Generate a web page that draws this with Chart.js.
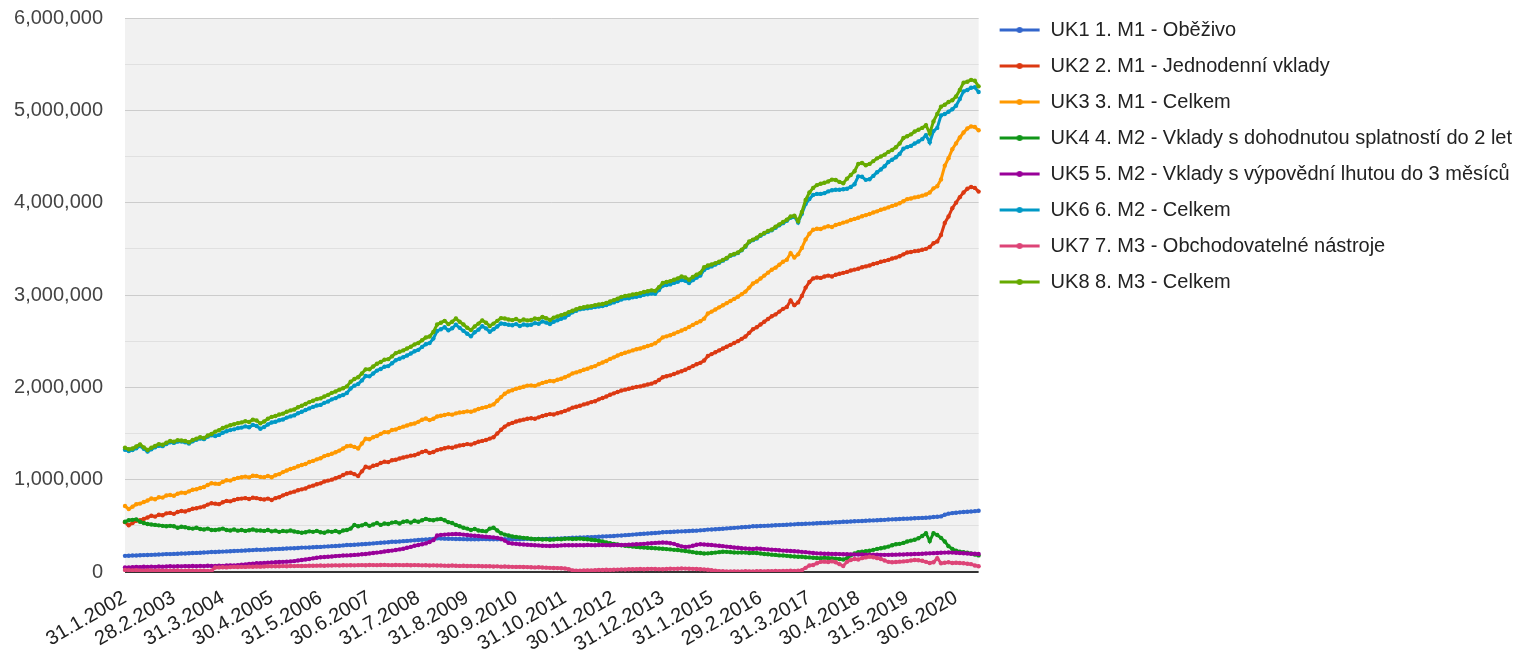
<!DOCTYPE html>
<html>
<head>
<meta charset="utf-8">
<title>Peněžní agregáty</title>
<script src="https://cdn.jsdelivr.net/npm/chart.js@4.4.1/dist/chart.umd.min.js"></script>
<style>
  html, body { margin: 0; padding: 0; background: #fff; }
  #wrap { position: relative; width: 1522px; height: 655px; }
</style>
</head>
<body>
<div id="wrap"><canvas id="aggregates"></canvas></div>
<script>
// Month-end dates, Jan 2002 - Dec 2020
const categories = [
  '31.1.2002','28.2.2002','31.3.2002','30.4.2002','31.5.2002','30.6.2002','31.7.2002','31.8.2002','30.9.2002','31.10.2002','30.11.2002','31.12.2002',
  '31.1.2003','28.2.2003','31.3.2003','30.4.2003','31.5.2003','30.6.2003','31.7.2003','31.8.2003','30.9.2003','31.10.2003','30.11.2003','31.12.2003',
  '31.1.2004','29.2.2004','31.3.2004','30.4.2004','31.5.2004','30.6.2004','31.7.2004','31.8.2004','30.9.2004','31.10.2004','30.11.2004','31.12.2004',
  '31.1.2005','28.2.2005','31.3.2005','30.4.2005','31.5.2005','30.6.2005','31.7.2005','31.8.2005','30.9.2005','31.10.2005','30.11.2005','31.12.2005',
  '31.1.2006','28.2.2006','31.3.2006','30.4.2006','31.5.2006','30.6.2006','31.7.2006','31.8.2006','30.9.2006','31.10.2006','30.11.2006','31.12.2006',
  '31.1.2007','28.2.2007','31.3.2007','30.4.2007','31.5.2007','30.6.2007','31.7.2007','31.8.2007','30.9.2007','31.10.2007','30.11.2007','31.12.2007',
  '31.1.2008','29.2.2008','31.3.2008','30.4.2008','31.5.2008','30.6.2008','31.7.2008','31.8.2008','30.9.2008','31.10.2008','30.11.2008','31.12.2008',
  '31.1.2009','28.2.2009','31.3.2009','30.4.2009','31.5.2009','30.6.2009','31.7.2009','31.8.2009','30.9.2009','31.10.2009','30.11.2009','31.12.2009',
  '31.1.2010','28.2.2010','31.3.2010','30.4.2010','31.5.2010','30.6.2010','31.7.2010','31.8.2010','30.9.2010','31.10.2010','30.11.2010','31.12.2010',
  '31.1.2011','28.2.2011','31.3.2011','30.4.2011','31.5.2011','30.6.2011','31.7.2011','31.8.2011','30.9.2011','31.10.2011','30.11.2011','31.12.2011',
  '31.1.2012','29.2.2012','31.3.2012','30.4.2012','31.5.2012','30.6.2012','31.7.2012','31.8.2012','30.9.2012','31.10.2012','30.11.2012','31.12.2012',
  '31.1.2013','28.2.2013','31.3.2013','30.4.2013','31.5.2013','30.6.2013','31.7.2013','31.8.2013','30.9.2013','31.10.2013','30.11.2013','31.12.2013',
  '31.1.2014','28.2.2014','31.3.2014','30.4.2014','31.5.2014','30.6.2014','31.7.2014','31.8.2014','30.9.2014','31.10.2014','30.11.2014','31.12.2014',
  '31.1.2015','28.2.2015','31.3.2015','30.4.2015','31.5.2015','30.6.2015','31.7.2015','31.8.2015','30.9.2015','31.10.2015','30.11.2015','31.12.2015',
  '31.1.2016','29.2.2016','31.3.2016','30.4.2016','31.5.2016','30.6.2016','31.7.2016','31.8.2016','30.9.2016','31.10.2016','30.11.2016','31.12.2016',
  '31.1.2017','28.2.2017','31.3.2017','30.4.2017','31.5.2017','30.6.2017','31.7.2017','31.8.2017','30.9.2017','31.10.2017','30.11.2017','31.12.2017',
  '31.1.2018','28.2.2018','31.3.2018','30.4.2018','31.5.2018','30.6.2018','31.7.2018','31.8.2018','30.9.2018','31.10.2018','30.11.2018','31.12.2018',
  '31.1.2019','28.2.2019','31.3.2019','30.4.2019','31.5.2019','30.6.2019','31.7.2019','31.8.2019','30.9.2019','31.10.2019','30.11.2019','31.12.2019',
  '31.1.2020','29.2.2020','31.3.2020','30.4.2020','31.5.2020','30.6.2020','31.7.2020','31.8.2020','30.9.2020','31.10.2020','30.11.2020','31.12.2020'
];

// UK1 1. M1 - Oběživo
const uk1Obezivo = [
  175000,176000,178000,179000,181000,183000,184000,186000,188000,189000,191000,194000,
  194000,196000,198000,200000,201000,203000,205000,207000,209000,211000,213000,216000,
  217000,219000,221000,223000,225000,227000,229000,231000,233000,235000,237000,241000,
  240000,242000,244000,246000,248000,250000,252000,254000,256000,258000,260000,264000,
  264000,266000,268000,270000,272000,275000,277000,280000,282000,285000,288000,292000,
  292000,295000,298000,301000,304000,307000,310000,313000,316000,320000,323000,328000,
  328000,331000,334000,337000,340000,343000,346000,349000,352000,355000,359000,364000,
  362000,361000,360000,359000,358000,357000,356000,355000,355000,354000,355000,358000,
  356000,355000,355000,354000,354000,355000,355000,354000,355000,355000,356000,359000,
  356000,356000,357000,358000,359000,360000,361000,362000,363000,365000,367000,371000,
  372000,374000,375000,377000,378000,380000,382000,384000,386000,388000,390000,394000,
  396000,399000,402000,405000,408000,411000,414000,417000,420000,423000,426000,431000,
  432000,434000,436000,438000,440000,442000,444000,446000,448000,451000,454000,459000,
  460000,463000,466000,469000,472000,475000,478000,481000,484000,487000,490000,495000,
  496000,498000,500000,502000,504000,506000,508000,510000,512000,514000,516000,520000,
  520000,522000,524000,526000,528000,530000,532000,534000,536000,538000,540000,544000,
  545000,547000,549000,551000,553000,555000,557000,559000,561000,563000,565000,569000,
  570000,572000,574000,576000,578000,580000,582000,584000,586000,588000,590000,595000,
  598000,602000,620000,632000,638000,642000,646000,650000,653000,656000,659000,664000
];

// UK2 2. M1 - Jednodenní vklady
const uk2JednodenniVklady = [
  540000,505000,530000,555000,560000,575000,590000,610000,600000,620000,615000,635000,
  640000,630000,650000,660000,655000,670000,685000,690000,700000,710000,730000,745000,
  740000,735000,755000,770000,765000,780000,790000,795000,800000,790000,805000,800000,
  790000,785000,795000,780000,800000,810000,830000,845000,860000,870000,885000,895000,
  905000,925000,935000,950000,960000,980000,990000,1000000,1015000,1030000,1050000,1070000,
  1075000,1060000,1040000,1090000,1140000,1130000,1150000,1160000,1180000,1195000,1190000,1210000,
  1215000,1230000,1240000,1250000,1260000,1265000,1280000,1300000,1310000,1290000,1300000,1320000,
  1330000,1340000,1350000,1345000,1360000,1370000,1375000,1385000,1380000,1395000,1410000,1420000,
  1430000,1445000,1460000,1500000,1540000,1575000,1600000,1615000,1630000,1640000,1650000,1660000,
  1665000,1660000,1675000,1690000,1700000,1710000,1705000,1720000,1730000,1745000,1760000,1780000,
  1790000,1800000,1815000,1825000,1840000,1850000,1870000,1885000,1900000,1920000,1935000,1950000,
  1965000,1975000,1985000,1995000,2005000,2010000,2020000,2030000,2040000,2055000,2080000,2110000,
  2120000,2130000,2145000,2160000,2175000,2190000,2210000,2230000,2250000,2265000,2290000,2340000,
  2360000,2380000,2400000,2420000,2440000,2460000,2480000,2500000,2525000,2550000,2590000,2630000,
  2650000,2680000,2710000,2740000,2770000,2790000,2820000,2850000,2870000,2940000,2890000,2920000,
  2990000,3080000,3140000,3180000,3190000,3185000,3200000,3210000,3200000,3220000,3230000,3240000,
  3250000,3265000,3275000,3285000,3300000,3310000,3320000,3335000,3345000,3360000,3370000,3380000,
  3395000,3405000,3420000,3440000,3460000,3465000,3475000,3480000,3490000,3500000,3520000,3560000,
  3580000,3650000,3780000,3850000,3940000,4000000,4060000,4110000,4150000,4170000,4160000,4120000
];

// UK3 3. M1 - Celkem
const uk3M1Celkem = [
  715000,681000,708000,734000,741000,758000,774000,796000,788000,809000,806000,829000,
  834000,826000,848000,860000,856000,873000,890000,897000,909000,921000,943000,961000,
  957000,954000,976000,993000,990000,1007000,1019000,1026000,1033000,1025000,1042000,1041000,
  1030000,1027000,1039000,1026000,1048000,1060000,1082000,1099000,1116000,1128000,1145000,1159000,
  1169000,1191000,1203000,1220000,1232000,1255000,1267000,1280000,1297000,1315000,1338000,1362000,
  1367000,1355000,1338000,1391000,1444000,1437000,1460000,1473000,1496000,1515000,1513000,1538000,
  1543000,1561000,1574000,1587000,1600000,1608000,1626000,1649000,1662000,1645000,1659000,1684000,
  1692000,1701000,1710000,1704000,1718000,1727000,1731000,1740000,1735000,1749000,1765000,1778000,
  1786000,1800000,1815000,1854000,1894000,1930000,1955000,1969000,1985000,1995000,2006000,2019000,
  2021000,2016000,2032000,2048000,2059000,2070000,2066000,2082000,2093000,2110000,2127000,2151000,
  2162000,2174000,2190000,2202000,2218000,2230000,2252000,2269000,2286000,2308000,2325000,2344000,
  2361000,2374000,2387000,2400000,2413000,2421000,2434000,2447000,2460000,2478000,2506000,2541000,
  2552000,2564000,2581000,2598000,2615000,2632000,2654000,2676000,2698000,2716000,2744000,2799000,
  2820000,2843000,2866000,2889000,2912000,2935000,2958000,2981000,3009000,3037000,3080000,3125000,
  3146000,3178000,3210000,3242000,3274000,3296000,3328000,3360000,3382000,3454000,3406000,3440000,
  3510000,3602000,3664000,3706000,3718000,3715000,3732000,3744000,3736000,3758000,3770000,3784000,
  3795000,3812000,3824000,3836000,3853000,3865000,3877000,3894000,3906000,3923000,3935000,3949000,
  3965000,3977000,3994000,4016000,4038000,4045000,4057000,4064000,4076000,4088000,4110000,4155000,
  4178000,4252000,4400000,4482000,4578000,4642000,4706000,4760000,4803000,4826000,4819000,4784000
];

// UK4 4. M2 - Vklady s dohodnutou splatností do 2 let
const uk4VkladySplatnost = [
  545000,560000,565000,570000,545000,530000,520000,515000,510000,505000,500000,495000,
  500000,495000,480000,490000,485000,475000,470000,480000,465000,460000,470000,455000,
  455000,460000,470000,455000,450000,460000,448000,455000,445000,452000,460000,450000,
  450000,445000,455000,440000,448000,435000,445000,440000,450000,438000,432000,425000,
  430000,440000,435000,445000,430000,425000,440000,435000,445000,430000,450000,455000,
  470000,510000,495000,505000,520000,500000,515000,530000,510000,525000,520000,535000,
  540000,525000,545000,550000,535000,555000,545000,560000,575000,565000,560000,570000,
  575000,560000,540000,530000,510000,495000,480000,470000,455000,465000,450000,445000,
  440000,470000,480000,450000,420000,405000,395000,385000,380000,375000,370000,365000,
  360000,355000,358000,352000,355000,350000,352000,358000,355000,360000,362000,358000,
  360000,362000,358000,355000,350000,345000,338000,330000,320000,312000,305000,298000,
  290000,285000,280000,275000,272000,268000,265000,262000,260000,258000,255000,252000,
  248000,245000,240000,238000,232000,228000,222000,215000,208000,205000,200000,202000,
  205000,210000,215000,220000,218000,215000,212000,210000,212000,210000,205000,208000,
  205000,200000,195000,192000,188000,185000,180000,178000,175000,170000,168000,165000,
  165000,160000,158000,155000,152000,150000,155000,150000,148000,145000,140000,135000,
  150000,180000,200000,215000,220000,225000,230000,240000,250000,258000,265000,275000,
  290000,300000,305000,315000,330000,340000,350000,365000,390000,420000,335000,420000,
  400000,370000,330000,280000,250000,230000,220000,215000,210000,200000,190000,180000
];

// UK5 5. M2 - Vklady s výpovědní lhůtou do 3 měsíců
const uk5VkladyVypoved = [
  50000,48000,52000,55000,53000,57000,55000,58000,56000,60000,58000,60000,
  62000,60000,63000,61000,64000,62000,65000,63000,66000,64000,67000,66000,
  65000,68000,66000,70000,72000,70000,74000,78000,82000,86000,90000,94000,
  95000,98000,100000,103000,105000,108000,110000,112000,115000,118000,124000,130000,
  135000,140000,148000,155000,160000,162000,165000,168000,172000,175000,178000,180000,
  182000,185000,188000,192000,195000,200000,205000,210000,215000,222000,228000,232000,
  238000,245000,252000,262000,272000,285000,292000,300000,310000,325000,345000,395000,
  402000,405000,408000,410000,412000,410000,405000,400000,395000,392000,390000,385000,
  382000,378000,375000,370000,360000,340000,315000,308000,305000,300000,298000,295000,
  292000,290000,288000,285000,283000,282000,284000,285000,288000,290000,289000,290000,
  290000,291000,290000,292000,291000,290000,292000,293000,291000,290000,292000,293000,
  292000,294000,296000,298000,300000,302000,305000,308000,312000,315000,318000,320000,
  318000,312000,305000,290000,278000,272000,275000,285000,295000,300000,298000,295000,
  292000,288000,285000,280000,275000,270000,265000,262000,258000,255000,252000,250000,
  255000,252000,248000,245000,242000,240000,235000,232000,230000,228000,225000,222000,
  218000,215000,210000,205000,202000,200000,198000,197000,196000,195000,194000,193000,
  192000,191000,190000,190000,189000,188000,188000,187000,187000,186000,186000,186000,
  187000,188000,189000,190000,192000,193000,195000,196000,198000,200000,202000,204000,
  206000,208000,210000,211000,210000,208000,205000,203000,200000,198000,197000,195000
];

// UK6 6. M2 - Celkem
const uk6M2Celkem = [
  1323000,1310000,1320000,1340000,1365000,1335000,1304000,1329000,1351000,1368000,1363000,1387000,
  1405000,1398000,1412000,1413000,1404000,1392000,1415000,1433000,1446000,1439000,1466000,1481000,
  1472000,1485000,1508000,1525000,1537000,1545000,1558000,1564000,1577000,1567000,1593000,1581000,
  1552000,1570000,1598000,1619000,1627000,1643000,1651000,1672000,1685000,1696000,1719000,1735000,
  1754000,1772000,1788000,1803000,1810000,1832000,1847000,1870000,1883000,1904000,1917000,1938000,
  1987000,2018000,2036000,2075000,2122000,2119000,2150000,2181000,2199000,2223000,2230000,2261000,
  2294000,2310000,2326000,2344000,2367000,2390000,2406000,2438000,2467000,2479000,2528000,2610000,
  2629000,2651000,2617000,2640000,2678000,2644000,2612000,2580000,2554000,2596000,2625000,2662000,
  2638000,2602000,2630000,2659000,2692000,2686000,2678000,2672000,2685000,2664000,2681000,2672000,
  2678000,2695000,2689000,2714000,2701000,2685000,2711000,2726000,2742000,2757000,2785000,2812000,
  2830000,2846000,2852000,2857000,2863000,2870000,2876000,2881000,2891000,2907000,2920000,2934000,
  2952000,2963000,2965000,2976000,2981000,2988000,3002000,3007000,3016000,3013000,3054000,3100000,
  3107000,3115000,3131000,3144000,3162000,3153000,3130000,3161000,3188000,3210000,3272000,3295000,
  3310000,3330000,3350000,3372000,3394000,3425000,3438000,3454000,3485000,3522000,3573000,3594000,
  3612000,3641000,3665000,3685000,3701000,3729000,3755000,3778000,3804000,3837000,3848000,3786000,
  3880000,3985000,4040000,4084000,4095000,4095000,4103000,4122000,4135000,4140000,4140000,4145000,
  4150000,4170000,4200000,4285000,4280000,4247000,4254000,4290000,4330000,4360000,4395000,4440000,
  4465000,4492000,4528000,4585000,4602000,4615000,4640000,4662000,4688000,4730000,4653000,4775000,
  4810000,4945000,4960000,4985000,5012000,5050000,5123000,5205000,5220000,5245000,5250000,5198000
];

// UK7 7. M3 - Obchodovatelné nástroje
const uk7ObchodovatelneNastroje = [
  22000,20000,18000,20000,17000,15000,18000,16000,14000,17000,15000,13000,
  15000,14000,16000,12000,14000,13000,15000,12000,14000,13000,12000,14000,
  48000,50000,52000,50000,53000,55000,54000,56000,55000,58000,57000,59000,
  58000,60000,62000,61000,63000,62000,64000,63000,65000,64000,66000,65000,
  66000,68000,67000,69000,70000,68000,71000,70000,72000,71000,73000,72000,
  73000,72000,74000,75000,73000,76000,75000,74000,76000,77000,75000,74000,
  76000,75000,74000,76000,73000,75000,74000,72000,73000,71000,72000,70000,
  71000,69000,68000,70000,67000,66000,68000,65000,66000,64000,65000,63000,
  62000,63000,60000,61000,58000,59000,57000,56000,55000,56000,54000,53000,
  52000,50000,51000,48000,47000,45000,44000,42000,40000,38000,30000,18000,
  15000,14000,16000,18000,17000,20000,22000,21000,24000,23000,25000,26000,
  28000,27000,30000,29000,31000,32000,30000,33000,34000,32000,31000,30000,
  33000,35000,34000,36000,38000,37000,35000,34000,32000,30000,28000,25000,
  20000,15000,10000,8000,6000,5000,7000,6000,5000,8000,7000,6000,
  8000,9000,7000,10000,9000,11000,10000,12000,11000,13000,12000,14000,
  20000,45000,70000,76000,95000,110000,112000,108000,115000,105000,85000,65000,
  110000,130000,140000,135000,150000,158000,166000,160000,150000,140000,125000,110000,
  105000,108000,112000,115000,118000,125000,130000,128000,122000,110000,97000,105000,
  150000,95000,100000,105000,98000,100000,97000,95000,90000,85000,70000,62000
];

// UK8 8. M3 - Celkem
const uk8M3Celkem = [
  1345000,1330000,1338000,1360000,1382000,1350000,1322000,1345000,1365000,1385000,1378000,1400000,
  1420000,1412000,1428000,1425000,1418000,1405000,1430000,1445000,1460000,1452000,1478000,1495000,
  1520000,1535000,1560000,1575000,1590000,1600000,1612000,1620000,1632000,1625000,1650000,1640000,
  1610000,1630000,1660000,1680000,1690000,1705000,1715000,1735000,1750000,1760000,1785000,1800000,
  1820000,1840000,1855000,1872000,1880000,1900000,1918000,1940000,1955000,1975000,1990000,2010000,
  2060000,2090000,2110000,2150000,2195000,2195000,2225000,2255000,2275000,2300000,2305000,2335000,
  2370000,2385000,2400000,2420000,2440000,2465000,2480000,2510000,2540000,2550000,2600000,2680000,
  2700000,2720000,2685000,2710000,2745000,2710000,2680000,2645000,2620000,2660000,2690000,2725000,
  2700000,2665000,2690000,2720000,2750000,2745000,2735000,2728000,2740000,2720000,2735000,2725000,
  2730000,2745000,2740000,2762000,2748000,2730000,2755000,2768000,2782000,2795000,2815000,2830000,
  2845000,2860000,2868000,2875000,2880000,2890000,2898000,2902000,2915000,2930000,2945000,2960000,
  2980000,2990000,2995000,3005000,3012000,3020000,3032000,3040000,3050000,3045000,3085000,3130000,
  3140000,3150000,3165000,3180000,3200000,3190000,3165000,3195000,3220000,3240000,3300000,3320000,
  3330000,3345000,3360000,3380000,3400000,3430000,3445000,3460000,3490000,3530000,3580000,3600000,
  3620000,3650000,3672000,3695000,3710000,3740000,3765000,3790000,3815000,3850000,3860000,3800000,
  3900000,4030000,4110000,4160000,4190000,4205000,4215000,4230000,4250000,4245000,4225000,4210000,
  4260000,4300000,4340000,4420000,4430000,4405000,4420000,4450000,4480000,4500000,4520000,4550000,
  4570000,4600000,4640000,4700000,4720000,4740000,4770000,4790000,4810000,4840000,4750000,4880000,
  4960000,5040000,5060000,5090000,5110000,5150000,5220000,5300000,5310000,5330000,5320000,5260000
];

const seriesNames = [
  'UK1 1. M1 - Oběživo',
  'UK2 2. M1 - Jednodenní vklady',
  'UK3 3. M1 - Celkem',
  'UK4 4. M2 - Vklady s dohodnutou splatností do 2 let',
  'UK5 5. M2 - Vklady s výpovědní lhutou do 3 měsíců',
  'UK6 6. M2 - Celkem',
  'UK7 7. M3 - Obchodovatelné nástroje',
  'UK8 8. M3 - Celkem'
];
const seriesValues = [
  uk1Obezivo, uk2JednodenniVklady, uk3M1Celkem, uk4VkladySplatnost,
  uk5VkladyVypoved, uk6M2Celkem, uk7ObchodovatelneNastroje, uk8M3Celkem
];
const seriesColors = ['#3366cc', '#dc3912', '#ff9900', '#109618', '#990099', '#0099c6', '#dd4477', '#66aa00'];

const Y_MAX = 6000000;
const Y_STEP = 500000;
const Y_LABEL_STEP = 1000000;
const TICK_STEP = 13;   // a date label every 13 months

const FONT = "'Liberation Sans', Arial, sans-serif";

// legend symbol: short line with a dot in the middle (drawn in a 46px slot)
function makeMarker(color) {
  const c = document.createElement('canvas');
  c.width = 46;
  c.height = 10;
  const g = c.getContext('2d');
  g.strokeStyle = color;
  g.lineWidth = 3;
  g.beginPath();
  g.moveTo(5, 5);
  g.lineTo(45, 5);
  g.stroke();
  g.fillStyle = color;
  g.beginPath();
  g.arc(25, 5, 3, 0, Math.PI * 2);
  g.fill();
  return c;
}
const markers = seriesColors.map(makeMarker);

const plotBackground = {
  id: 'plotBackground',
  beforeDraw(chart) {
    const { ctx, chartArea: a } = chart;
    ctx.save();
    ctx.fillStyle = '#f1f1f1';
    ctx.fillRect(a.left, a.top, a.right - a.left, a.bottom - a.top);
    ctx.restore();
  }
};

const datasets = seriesNames.map((name, i) => ({
  label: name,
  data: seriesValues[i],
  borderColor: seriesColors[i],
  backgroundColor: seriesColors[i],
  borderWidth: 3,
  pointRadius: 2.2,
  pointBorderWidth: 0,
  pointBackgroundColor: seriesColors[i],
  tension: 0,
  fill: false,
  // later series on top, like the original
  order: seriesNames.length - i
}));

new Chart(document.getElementById('aggregates'), {
  type: 'line',
  data: { labels: categories, datasets },
  plugins: [plotBackground],
  options: {
    responsive: true,
    maintainAspectRatio: false,
    animation: false,
    layout: { padding: { top: 4, right: 0, bottom: 0, left: 0 } },
    scales: {
      x: {
        offset: false,
        grid: { display: false, drawTicks: false },
        border: { display: false },
        afterFit(scale) { scale.height = 83; },
        ticks: {
          autoSkip: false,
          maxRotation: 30,
          minRotation: 30,
          padding: 14,
          color: '#222222',
          font: { family: FONT, size: 20 },
          callback: (value, index) => (index % TICK_STEP === 0 ? categories[index] : '')
        }
      },
      y: {
        min: 0,
        max: Y_MAX,
        afterFit(scale) {
          scale.width = 125;
          scale.paddingTop = 18;
          scale.paddingBottom = 0;
        },
        border: { display: false },
        grid: {
          drawTicks: false,
          color: (c) => (c.tick.value === 0 ? '#333333' : (c.tick.value % Y_LABEL_STEP === 0 ? '#cccccc' : '#e0e0e0')),
          lineWidth: (c) => (c.tick.value === 0 ? 2 : 1)
        },
        ticks: {
          stepSize: Y_STEP,
          padding: 22,
          color: '#444444',
          font: { family: FONT, size: 20 },
          callback: (v) => (v % Y_LABEL_STEP === 0 ? v.toLocaleString('en-US') : '')
        }
      }
    },
    plugins: {
      tooltip: { enabled: false },
      legend: {
        position: 'right',
        align: 'start',
        maxWidth: 545,
        labels: {
          usePointStyle: true,
          pointStyleWidth: 46,
          boxWidth: 46,
          boxHeight: 10,
          padding: 16,
          color: '#222222',
          font: { family: FONT, size: 20 },
          generateLabels(chart) {
            const items = Chart.defaults.plugins.legend.labels.generateLabels(chart);
            items.forEach((it) => { it.pointStyle = markers[it.datasetIndex]; });
            return items.sort((a, b) => a.datasetIndex - b.datasetIndex);
          }
        }
      }
    }
  }
});
</script>
</body>
</html>
